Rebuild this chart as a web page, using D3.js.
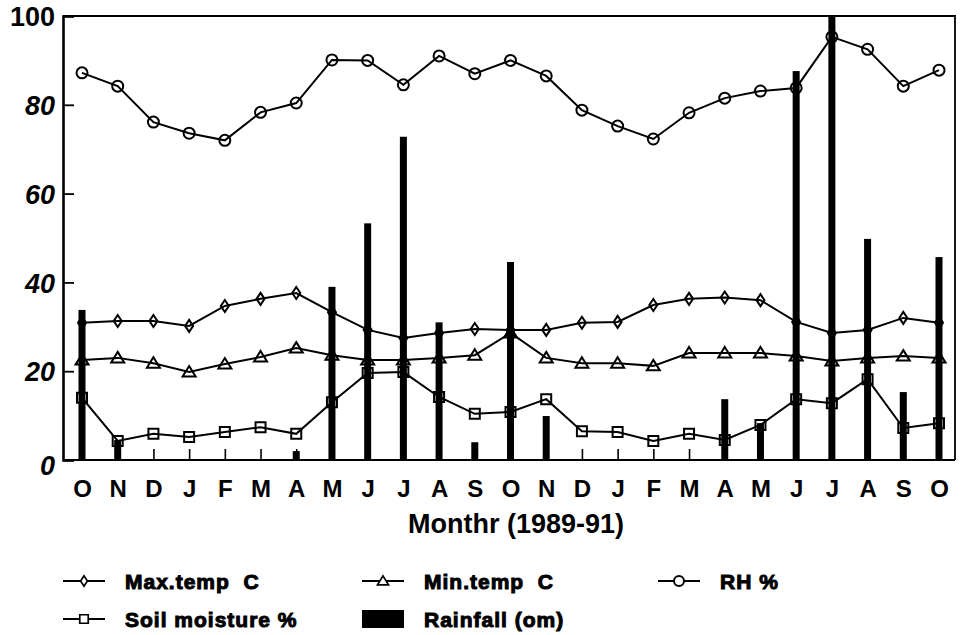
<!DOCTYPE html>
<html>
<head>
<meta charset="utf-8">
<script src="https://cdn.jsdelivr.net/npm/d3@7"></script>
<style>
  body { margin: 0; background: #fff; }
  svg { display: block; }
  .axis text { font-family: "Liberation Sans", Arial, sans-serif; font-weight: bold; fill: #000; }
  .legend text { font-family: "Liberation Sans", Arial, sans-serif; font-weight: bold; font-size: 21px; fill: #000; stroke: #000; stroke-width: 1px; letter-spacing: 1px; white-space: pre; }
</style>
</head>
<body>
<div id="chart"></div>
<script>
// data (Oct 1989 - Oct 1991)
const months = ["O", "N", "D", "J", "F", "M", "A", "M", "J", "J", "A", "S", "O",
  "N", "D", "J", "F", "M", "A", "M", "J", "J", "A", "S", "O"];
const maxTemp = [30.9, 31.3, 31.3, 30.2, 34.7, 36.3, 37.6, 33.3, 29.3, 27.5, 28.6, 29.5, 29.3,
  29.3, 30.9, 31.1, 34.9, 36.3, 36.6, 36.0, 31.1, 28.6, 29.3, 32.0, 30.9];
const minTemp = [22.5, 23.0, 21.8, 19.8, 21.6, 23.2, 25.2, 23.6, 22.5, 22.5, 23.0, 23.6, 28.6,
  23.0, 21.8, 21.8, 21.2, 24.1, 24.1, 24.1, 23.4, 22.3, 23.0, 23.4, 23.0];
const rh = [87.2, 84.2, 76.1, 73.6, 72.0, 78.3, 80.4, 90.1, 90.0, 84.5, 91.0, 87.0, 90.0,
  86.5, 78.8, 75.2, 72.3, 78.2, 81.5, 83.1, 83.8, 95.3, 92.5, 84.2, 87.8];
const soil = [14.0, 4.3, 5.9, 5.2, 6.3, 7.4, 5.9, 13.0, 19.6, 19.8, 14.2, 10.4, 10.8,
  13.7, 6.5, 6.3, 4.3, 5.9, 4.5, 7.9, 13.7, 12.8, 18.2, 7.2, 8.3];
const rainfall = [33.8, 4.5, 0, 0, 0, 0, 2, 39.0, 53.3, 72.8, 31.0, 4.0, 44.6,
  9.9, 0, 0, 0, 0, 13.7, 8.3, 87.6, 100, 49.8, 15.3, 45.7];
const yTicks = [0, 20, 40, 60, 80, 100];

const width = 962, height = 635;
const svg = d3.select("#chart").append("svg")
  .attr("width", width).attr("height", height);

const x = d3.scaleLinear().domain([0, months.length - 1]).range([82, 939]);
const y = d3.scaleLinear().domain([0, 100]).range([460, 16]);

// frame (top and right)
svg.append("path")
  .attr("d", "M63,16H955V460")
  .attr("fill", "none").attr("stroke", "#000").attr("stroke-width", 1.8);

// rainfall bars
svg.selectAll(".bar")
  .data(rainfall)
  .enter()
  .append("rect")
  .attr("class", "bar")
  .attr("x", (d, i) => x(i) - 3.5)
  .attr("width", 7)
  .attr("y", (d) => y(d))
  .attr("height", (d) => y(0) - y(d))
  .attr("fill", "#000");

const line = d3.line().x((d, i) => x(i)).y((d) => y(d));
[maxTemp, minTemp, rh, soil].forEach((s) => {
  svg.append("path")
    .datum(s)
    .attr("d", line)
    .attr("fill", "none")
    .attr("stroke", "#000")
    .attr("stroke-width", 2);
});

// marker shapes
const diamond = "M0,-6L4,0L0,6L-4,0Z";
const triangle = "M0,-6L6.5,4.5H-6.5Z";
const square = "M-5,-5H5V5H-5Z";
function markers(series, shape) {
  svg.append("g").selectAll("path")
    .data(series)
    .enter()
    .append("path")
    .attr("transform", (d, i) => "translate(" + x(i) + "," + y(d) + ")")
    .attr("d", shape)
    .attr("fill", "none")
    .attr("stroke", "#000")
    .attr("stroke-width", 2);
}
markers(maxTemp, diamond);
markers(minTemp, triangle);
markers(soil, square);
svg.append("g").selectAll("circle")
  .data(rh)
  .enter()
  .append("circle")
  .attr("cx", (d, i) => x(i))
  .attr("cy", (d) => y(d))
  .attr("r", 5.5)
  .attr("fill", "none")
  .attr("stroke", "#000")
  .attr("stroke-width", 2);

// axes
const yAxis = svg.append("g")
  .attr("class", "axis")
  .attr("transform", "translate(63,0)")
  .call(d3.axisLeft(y).tickValues(yTicks).tickSize(-11).tickPadding(10));
yAxis.select(".domain").attr("stroke-width", 2.6);
yAxis.selectAll(".tick line").attr("stroke-width", 1.8);
yAxis.selectAll("text")
  .style("font-size", "27px")
  .style("font-style", (d) => (d === 100 ? "normal" : "italic"))
  .attr("x", -8)
  .attr("dy", (d) => (d === 0 ? "0.55em" : "0.36em"));

const xAxis = svg.append("g")
  .attr("class", "axis")
  .attr("transform", "translate(0,460)")
  .call(d3.axisBottom(x)
    .tickValues(d3.range(months.length))
    .tickSize(-11)
    .tickFormat((i) => months[i]));
xAxis.select(".domain").attr("d", "M63,0H955").attr("stroke-width", 2);
xAxis.selectAll(".tick line").attr("stroke-width", 1.6);
xAxis.selectAll("text")
  .style("font-size", "24px")
  .attr("y", 37)
  .attr("dy", 0);

svg.append("text")
  .attr("x", 516)
  .attr("y", 533)
  .attr("text-anchor", "middle")
  .style("font-family", "'Liberation Sans', Arial, sans-serif")
  .style("font-weight", "bold")
  .style("font-size", "27px")
  .text("Monthr (1989-91)");

// legend
const legendItems = [
  { label: "Max.temp  C", shape: diamond, lx: 63, ly: 581 },
  { label: "Min.temp  C", shape: triangle, lx: 362, ly: 581 },
  { label: "RH %", shape: "circle", lx: 658, ly: 581 },
  { label: "Soil moisture %", shape: square, lx: 63, ly: 619 },
  { label: "Rainfall (om)", shape: "bar", lx: 362, ly: 619 },
];
const legend = svg.append("g").attr("class", "legend");
legendItems.forEach((d) => {
  const g = legend.append("g").attr("transform", "translate(" + d.lx + "," + d.ly + ")");
  if (d.shape === "bar") {
    g.append("rect").attr("x", 0).attr("y", -9).attr("width", 42).attr("height", 18).attr("fill", "#000");
  } else {
    g.append("line").attr("x1", 0).attr("x2", 42).attr("stroke", "#000").attr("stroke-width", 2);
    if (d.shape === "circle") {
      g.append("circle").attr("cx", 21).attr("r", 5).attr("fill", "#fff").attr("stroke", "#000").attr("stroke-width", 2);
    } else {
      g.append("path").attr("transform", "translate(21,0) scale(0.85)").attr("d", d.shape)
        .attr("fill", "#fff").attr("stroke", "#000").attr("stroke-width", 2);
    }
  }
  g.append("text").attr("x", 62).attr("y", 8).text(d.label);
});
</script>
</body>
</html>
